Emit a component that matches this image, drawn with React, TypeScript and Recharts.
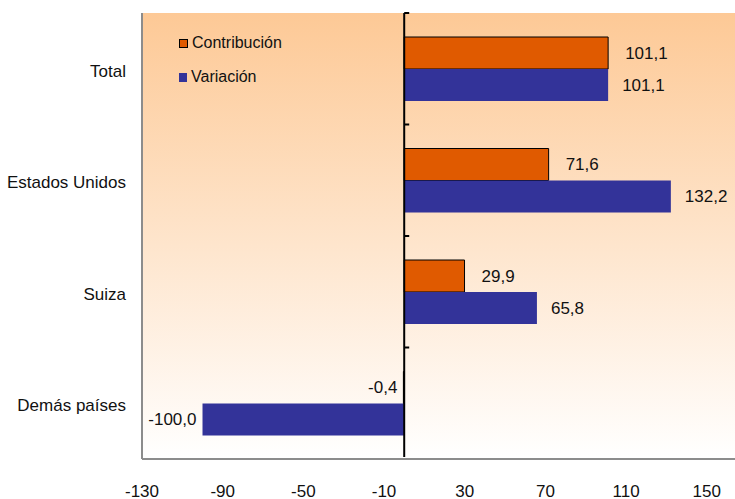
import { BarChart, Bar, XAxis, YAxis, CartesianGrid, ReferenceLine, ReferenceArea, LabelList, Legend } from "recharts";

const categories = ["Total", "Estados Unidos", "Suiza", "Demás países"];
const contribucion = [101.1, 71.6, 29.9, -0.4];
const variacion = [101.1, 132.2, 65.8, -100.0];
const xTicks = [-130, -90, -50, -10, 30, 70, 110, 150];

const data = categories.map((name, i) => ({
  name,
  contribucion: contribucion[i],
  variacion: variacion[i],
}));

const ORANGE = "#E05A00";
const BLUE = "#333399";
const FONT = 17;
const fmt = (v: number) => v.toFixed(1).replace(".", ",");

const makeLabel = (gap: number) => (props: any) => {
  const { x, y, width, height, value } = props;
  const neg = value < 0;
  const end = x + width;
  return (
    <text
      x={neg ? end - 6 : end + gap}
      y={y + height / 2}
      dy="0.35em"
      textAnchor={neg ? "end" : "start"}
      fontSize={FONT}
      fill="#111"
    >
      {fmt(value)}
    </text>
  );
};

const XTick = (props: any) => {
  const { x, y, payload } = props;
  return (
    <text x={x} y={y + 36} textAnchor="middle" fontSize={FONT} fill="#111">
      {payload.value}
    </text>
  );
};

// zero axis with small tick marks at category boundaries
const ZeroAxis = (props: any) => {
  const { x1, y1, y2 } = props;
  const n = categories.length;
  return (
    <g>
      <line x1={x1} x2={x1} y1={y1 - 2} y2={y2} stroke="#000" strokeWidth={2} />
      {categories.map((_, i) => {
        const yy = y1 + ((y2 - y1) * (i + 1)) / n;
        return <line key={i} x1={x1} x2={x1 + 5} y1={yy} y2={yy} stroke="#000" strokeWidth={2} />;
      })}
    </g>
  );
};

const LegendBox = () => (
  <div style={{ fontSize: 16, color: "#111", lineHeight: "18px", whiteSpace: "nowrap" }}>
    <div style={{ display: "flex", alignItems: "center", height: 18 }}>
      <span style={{ width: 7, height: 7, background: ORANGE, border: "1px solid #000", marginRight: 4 }} />
      Contribución
    </div>
    <div style={{ display: "flex", alignItems: "center", height: 18, marginTop: 16 }}>
      <span style={{ width: 8, height: 9, background: BLUE, marginRight: 4 }} />
      Variación
    </div>
  </div>
);

export default function App() {
  return (
    <div style={{ position: "absolute", left: 0, top: 0, fontFamily: "'Liberation Sans', Arial, sans-serif" }}>
      <BarChart
        width={735}
        height={499}
        data={data}
        layout="vertical"
        margin={{ top: 13, right: 0, left: 0, bottom: 0 }}
        barSize={32}
        barGap={0}
      >
        <defs>
          <linearGradient id="bg" x1="0" y1="0" x2="0" y2="1">
            <stop offset="0%" stopColor="#FDC996" />
            <stop offset="100%" stopColor="#FFFFFF" />
          </linearGradient>
        </defs>
        <ReferenceArea x1={-130} x2={164} fill="url(#bg)" fillOpacity={1} stroke="none" ifOverflow="hidden" />
        <CartesianGrid horizontal={false} stroke="#FBC48E" strokeWidth={1} />
        <XAxis
          type="number"
          domain={[-130, 164]}
          ticks={xTicks}
          allowDataOverflow
          height={40}
          tickLine={false}
          tickSize={0}
          axisLine={{ stroke: "#8C8C8C", strokeWidth: 2 }}
          tick={<XTick />}
          interval={0}
        />
        <XAxis
          xAxisId="top"
          orientation="top"
          type="number"
          domain={[-130, 164]}
          height={0}
          tick={false}
          tickLine={false}
          axisLine={{ stroke: "#8C8C8C", strokeWidth: 2 }}
        />
        <YAxis
          type="category"
          dataKey="name"
          width={142}
          tickLine={false}
          tickMargin={10}
          axisLine={{ stroke: "#8C8C8C", strokeWidth: 2 }}
          tick={{ fill: "#111", fontSize: FONT, dy: 2 }}
        />
        <Legend
          layout="vertical"
          align="center"
          verticalAlign="middle"
          content={<LegendBox />}
          wrapperStyle={{ position: "absolute", left: 179, top: 34, width: "auto" }}
        />
        <Bar dataKey="contribucion" name="Contribución" fill={ORANGE} stroke="#000" strokeWidth={1} isAnimationActive={false}>
          <LabelList dataKey="contribucion" content={makeLabel(17)} />
        </Bar>
        <Bar dataKey="variacion" name="Variación" fill={BLUE} isAnimationActive={false}>
          <LabelList dataKey="variacion" content={makeLabel(14)} />
        </Bar>
        <ReferenceLine x={0} stroke="#000" strokeWidth={2} shape={<ZeroAxis />} />
      </BarChart>
    </div>
  );
}
